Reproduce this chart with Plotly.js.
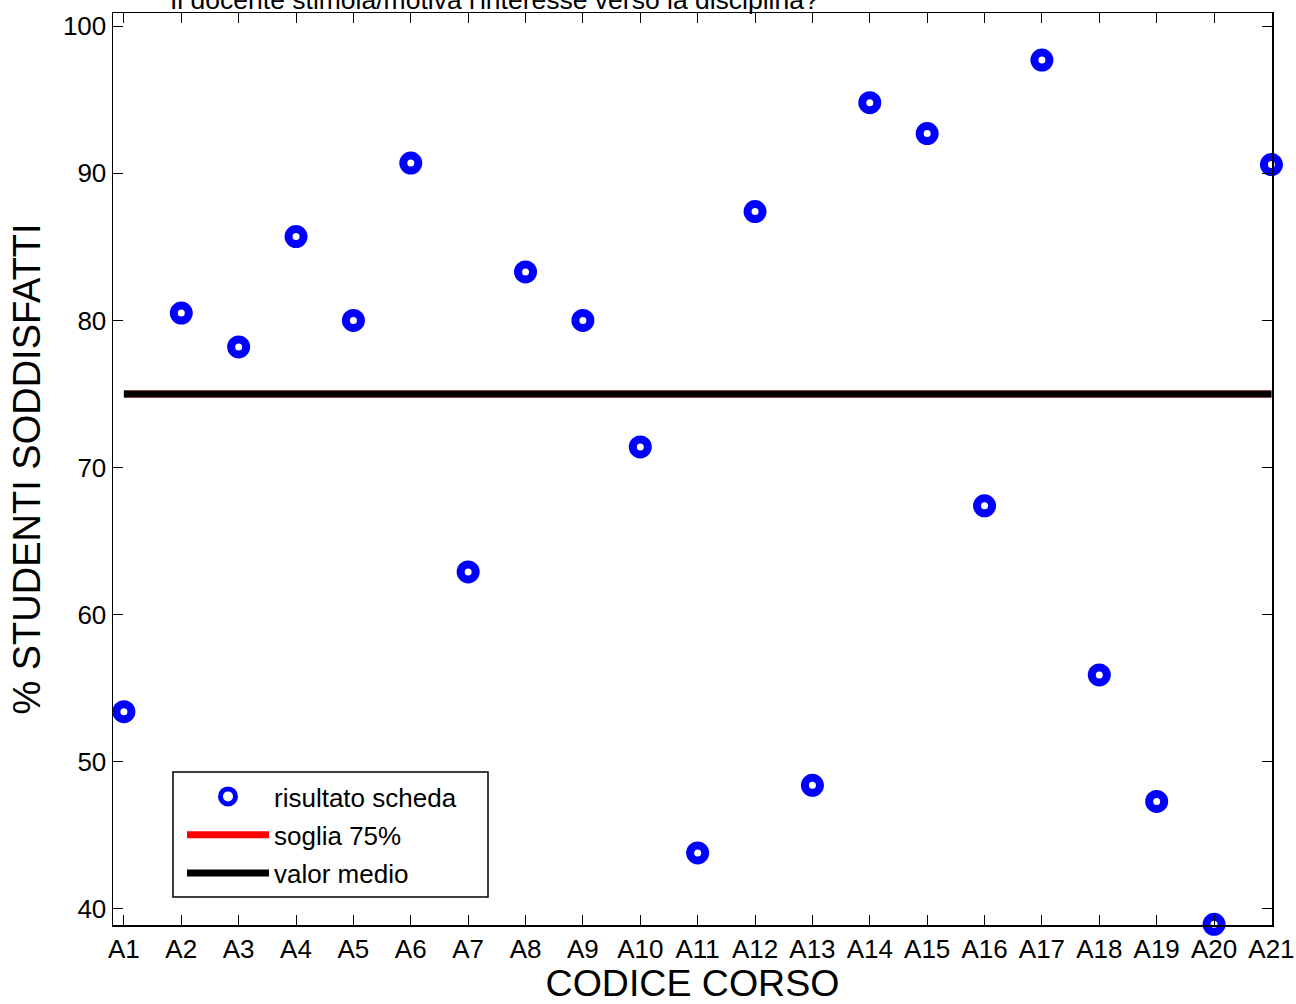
<!DOCTYPE html>
<html>
<head>
<meta charset="utf-8">
<script src="https://cdn.plot.ly/plotly-3.0.1.min.js"></script>
<style>html,body{margin:0;padding:0;background:#fff;}#chart{width:1296px;height:1004px;}</style>
</head>
<body>
<div id="chart"></div>
<script>
const categories = ["A1","A2","A3","A4","A5","A6","A7","A8","A9","A10","A11","A12","A13","A14","A15","A16","A17","A18","A19","A20","A21"];
const risultato = [53.4, 80.5, 78.2, 85.7, 80.0, 90.7, 62.9, 83.3, 80.0, 71.4, 43.8, 87.4, 48.4, 94.8, 92.7, 67.4, 97.7, 55.9, 47.3, 38.95, 90.6];
const soglia = 75;
const valorMedio = 75;
const titleText = "Il docente stimola/motiva l'interesse verso la disciplina?";
const xTitle = "CODICE CORSO";
const yTitle = "% STUDENTI SODDISFATTI";
const yTicks = [40, 50, 60, 70, 80, 90, 100];

const FONT = "Liberation Sans, Arial, Helvetica, sans-serif";
const first = categories[0], last = categories[categories.length - 1];

const traces = [
  {
    x: categories, y: risultato, type: "scatter", mode: "markers",
    name: "risultato scheda", legendgroup: "g1", cliponaxis: false,
    marker: {symbol: "circle", size: 15, color: "#ffffff", line: {color: "#0000ff", width: 8}}
  },
  {
    x: [first, last], y: [soglia, soglia], type: "scatter", mode: "lines",
    name: "soglia 75%", legendgroup: "g2",
    line: {color: "#ff0000", width: 7}
  },
  {
    x: [first, last], y: [valorMedio, valorMedio], type: "scatter", mode: "lines",
    name: "valor medio", legendgroup: "g3",
    line: {color: "#000000", width: 7}
  }
];

const axisCommon = {
  showline: true, linecolor: "#000", linewidth: 1.5, mirror: "ticks",
  ticks: "inside", ticklen: 10, tickwidth: 1, tickcolor: "#000",
  showgrid: false, zeroline: false,
  tickfont: {family: FONT, size: 26, color: "#000"}
};

// plot area in pixels: left 113, right 1272, top 13, bottom 925
const PW = 1296 - 113 - 24, PH = 1004 - 13 - 79;
const px = v => (v - 113) / PW;
const py = v => (925 - v) / PH;

const layout = {
  width: 1296, height: 1004,
  paper_bgcolor: "#fff", plot_bgcolor: "#fff",
  margin: {l: 113, r: 24, t: 13, b: 79, pad: 0},
  font: {family: FONT, color: "#000"},
  showlegend: true,
  legend: {
    x: px(182), y: py(773), xanchor: "left", yanchor: "top",
    bgcolor: "rgba(0,0,0,0)", borderwidth: 0,
    font: {family: FONT, size: 26, color: "#000"},
    itemwidth: 82, tracegroupgap: 1.5, traceorder: "grouped"
  },
  shapes: [{
    type: "rect", xref: "paper", yref: "paper", layer: "below",
    x0: px(173), x1: px(488), y0: py(897), y1: py(772),
    line: {color: "#000", width: 1.5}, fillcolor: "#fff"
  }],
  xaxis: Object.assign({}, axisCommon, {
    type: "category", categoryorder: "array", categoryarray: categories,
    range: [-0.19, 20.01],
    title: {text: xTitle, font: {family: FONT, size: 37.5, color: "#000"}, standoff: 10}
  }),
  yaxis: Object.assign({}, axisCommon, {
    range: [38.9, 100.9], tickvals: yTicks, ticktext: yTicks.map(String),
    title: {text: yTitle, font: {family: FONT, size: 38, color: "#000"}, standoff: 10}
  }),
  annotations: [{
    text: titleText, xref: "paper", yref: "paper",
    x: px(495), y: 1 - 4 / PH, xanchor: "center", yanchor: "bottom",
    showarrow: false, font: {family: FONT, size: 26.5, color: "#000"}
  }]
};

Plotly.newPlot("chart", traces, layout, {displayModeBar: false, staticPlot: true});
</script>
</body>
</html>
